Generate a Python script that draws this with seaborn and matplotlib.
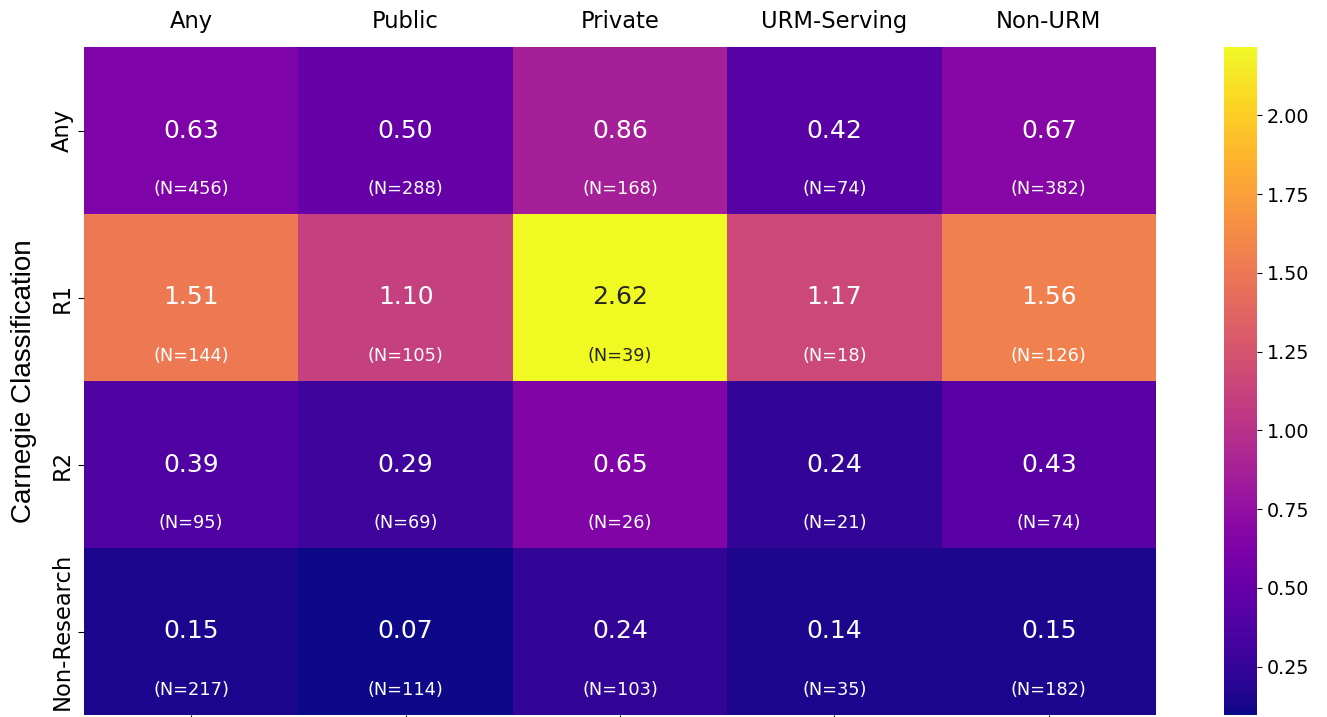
import numpy as np
import pandas as pd
import matplotlib
matplotlib.use("Agg")
import matplotlib.pyplot as plt
import seaborn as sns

# Carnegie classification x institution type
rows = ["Any", "R1", "R2", "Non-Research"]
cols = ["Any", "Public", "Private", "URM-Serving", "Non-URM"]
ratio = [[0.63, 0.50, 0.86, 0.42, 0.67],
         [1.51, 1.10, 2.62, 1.17, 1.56],
         [0.39, 0.29, 0.65, 0.24, 0.43],
         [0.15, 0.07, 0.24, 0.14, 0.15]]
counts = [[456, 288, 168, 74, 382],
          [144, 105, 39, 18, 126],
          [95, 69, 26, 21, 74],
          [217, 114, 103, 35, 182]]

df = pd.DataFrame(ratio, index=rows, columns=cols)

fig = plt.figure(figsize=(13.27, 7.17), dpi=100)
ax = fig.add_axes([84/1327, 2/717, 1072/1327, 668/717])
cax = fig.add_axes([1224/1327, 2/717, 33/1327, 668/717])

sns.heatmap(df, ax=ax, cbar_ax=cax, cmap="plasma", robust=True,
            annot=True, fmt=".2f", annot_kws={"size": 18})

# sample sizes under each value, same colour as seaborn picked
for k, t in enumerate(ax.texts[:]):
    i, j = divmod(k, len(cols))
    ax.text(j + 0.5, i + 0.85, "(N=%d)" % counts[i][j], ha="center", va="center",
            fontsize=12.8, color=t.get_color())

ax.tick_params(axis="x", labeltop=True, labelbottom=False, labelsize=16.3, length=4, pad=6)
ax.tick_params(axis="y", labelsize=16.3, length=4)
ax.set_xlabel("")
ax.set_ylabel("Carnegie Classification", fontsize=20, family="Liberation Sans", labelpad=10)
cax.tick_params(labelsize=13.8)

plt.savefig("out.png", dpi=100)
